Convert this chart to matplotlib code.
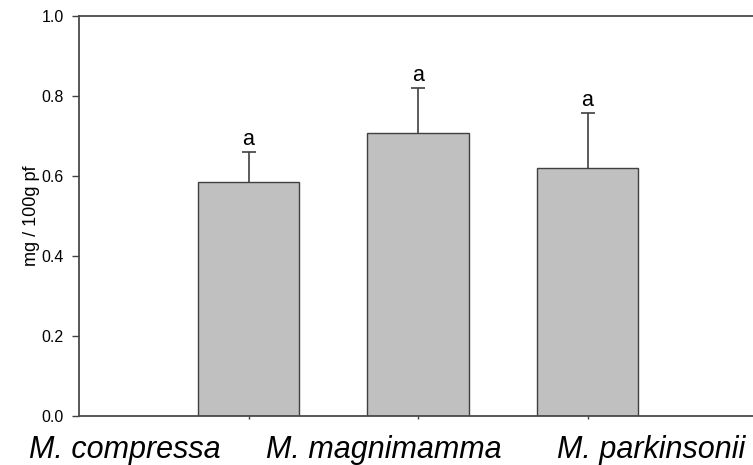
import numpy as np
import matplotlib
matplotlib.use('Agg')
import matplotlib.pyplot as plt

plt.rcParams['font.family'] = ['Liberation Sans', 'DejaVu Sans']

species = ['M. compressa', 'M. magnimamma', 'M. parkinsonii']
means = [0.586, 0.708, 0.620]
errs = [0.075, 0.111, 0.137]
letters = ['a', 'a', 'a']
label_x = [124.5 / 753, 384 / 753, 651.5 / 753]

fig = plt.figure(figsize=(7.53, 4.65), dpi=100)
ax = fig.add_axes([79 / 753, 49 / 465, 678 / 753, 400 / 465])

pos = np.arange(1, len(species) + 1)
ax.bar(pos, means, width=0.6, color='#c0c0c0', edgecolor='#404040', linewidth=1.0, zorder=2)
eb = ax.errorbar(pos, means, yerr=[np.zeros(len(errs)), errs], fmt='none', ecolor='#404040',
                 elinewidth=1.2, capsize=4.8, capthick=1.2, zorder=3)
# only the upper cap, like the original
eb[1][0].set_visible(False)

for x, m, e, l in zip(pos, means, errs, letters):
    ax.annotate(l, (x, m + e), xytext=(0, 1.5), textcoords='offset points',
                ha='center', va='bottom', fontsize=15.5)

ax.set_xlim(0, 4)
ax.set_ylim(0, 1.0)
ax.set_yticks([0.0, 0.2, 0.4, 0.6, 0.8, 1.0])
ax.set_yticklabels(['0.0', '0.2', '0.4', '0.6', '0.8', '1.0'])
ax.set_xticks(pos)
ax.set_xticklabels([])
ax.tick_params(axis='y', direction='out', length=5, width=1, color='#404040', pad=6, labelsize=11.5)
ax.tick_params(axis='x', direction='out', length=2.5, width=1, color='#404040')
ax.set_ylabel('mg / 100g pf', fontsize=13, labelpad=1)

for s in ['left', 'top', 'bottom', 'right']:
    ax.spines[s].set_color('#4a4a4a')
    ax.spines[s].set_linewidth(1.3)

for lx, name in zip(label_x, species):
    fig.text(lx, 7 / 465, name, ha='center', va='baseline', fontsize=22, style='italic')

fig.savefig('out.png', dpi=100)
